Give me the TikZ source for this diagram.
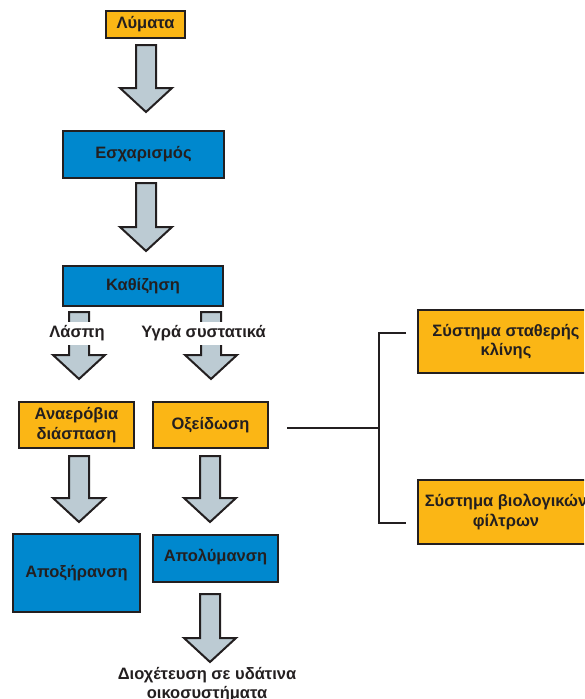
\documentclass[tikz,border=0pt]{standalone}
\usepackage{fontspec}
\setmainfont{Liberation Sans}
\usetikzlibrary{calc}
\definecolor{borange}{HTML}{FBB615}
\definecolor{bblue}{HTML}{0088CE}
\definecolor{barfill}{HTML}{BCCBD3}
\definecolor{dk}{HTML}{231F20}
\tikzset{
  txt/.style={font=\bfseries\fontsize{16.5}{19.5}\selectfont, text=dk, align=center},
  obox/.style={txt, draw=dk, line width=2pt, fill=borange, inner sep=0pt},
  bbox/.style={txt, draw=dk, line width=2pt, fill=bblue, inner sep=0pt},
  blockarr/.style={draw=dk, line width=2pt, fill=barfill, line join=miter},
  lbl/.style={txt, fill=white, inner sep=1pt, minimum height=23pt},
  conn/.style={draw=dk, line width=2pt}
}
\newcommand{\blockarrow}[2]{%
  \path #1 coordinate (ba1) #2 coordinate (ba2);
  \draw[blockarr] let \p1=(ba1), \p2=(ba2) in
    (\x1-10pt,\y1) -- (\x1+10pt,\y1) -- (\x1+10pt,\y2+24pt) -- (\x1+26pt,\y2+24pt)
    -- (\x1,\y2) -- (\x1-26pt,\y2+24pt) -- (\x1-10pt,\y2+24pt) -- cycle;}
\begin{document}
\begin{tikzpicture}[x=1pt,y=-1pt]
\useasboundingbox (0,0) rectangle (584,699);
\clip (0,0) rectangle (584,699);
% nodes
\node[obox, minimum width=79pt, minimum height=27pt] (lym) at (145.5,24.5) {Λύματα};
\node[bbox, minimum width=161pt, minimum height=47pt] (esc) at (143.5,154.5) {Εσχαρισμός};
\node[bbox, minimum width=160pt, minimum height=40pt] (kath) at (143,286) {Καθίζηση};
\node[obox, minimum width=115pt, minimum height=46pt] (ana) at (76.5,425) {Αναερόβια\\διάσπαση};
\node[obox, minimum width=115pt, minimum height=46pt] (oxe) at (210.5,425) {Οξείδωση};
\node[bbox, minimum width=127pt, minimum height=78pt] (apox) at (76.5,573) {Αποξήρανση};
\node[bbox, minimum width=125pt, minimum height=47pt, text depth=6pt] (apol) at (215.5,558.5) {Απολύμανση};
\node[obox, minimum width=176pt, minimum height=63pt] (sys1) at (506,341.5) {Σύστημα σταθερής\\κλίνης};
\node[obox, minimum width=176pt, minimum height=64pt] (sys2) at (506,512) {Σύστημα βιολογικών\\φίλτρων};
\node[txt, inner sep=0pt, anchor=north] (dio) at (207,667) {Διοχέτευση σε υδάτινα\\οικοσυστήματα};
% block arrows
\blockarrow{($(lym.south)+(0.5,6)$)}{($(esc.north)+(0,-18)$)}
\blockarrow{($(esc.south)+(2.5,4)$)}{($(kath.north)+(0,-14)$)}
\blockarrow{($(kath.south -| ana.north)+(2.5,5)$)}{($(ana.north)+(0,-22)$)}
\blockarrow{($(kath.south -| oxe.north)+(0.5,5)$)}{($(oxe.north)+(0,-22)$)}
\blockarrow{($(ana.south)+(2.5,7)$)}{($(apox.north)+(0,-11)$)}
\blockarrow{($(oxe.south)+(-0.5,7)$)}{($(apol.north)+(0,-12)$)}
\blockarrow{($(apol.south)+(-5.5,11)$)}{($(dio.north)+(0,-5)$)}
% labels over arrows
\node[lbl] (lasp) at (77,333.5) {Λάσπη};
\node[lbl] (ygra) at (203.5,333.5) {Υγρά συστατικά};
% connector tree
\coordinate (c0) at ($(oxe.east)+(18,3)$);
\coordinate (cj) at (379,428);
\coordinate (c1) at ($(sys1.west)+(-11,-8.5)$);
\coordinate (c2) at ($(sys2.west)+(-11,11)$);
\draw[conn] (c0) -- (cj);
\draw[conn] (c1) -| (cj) |- (c2);
\end{tikzpicture}
\end{document}
